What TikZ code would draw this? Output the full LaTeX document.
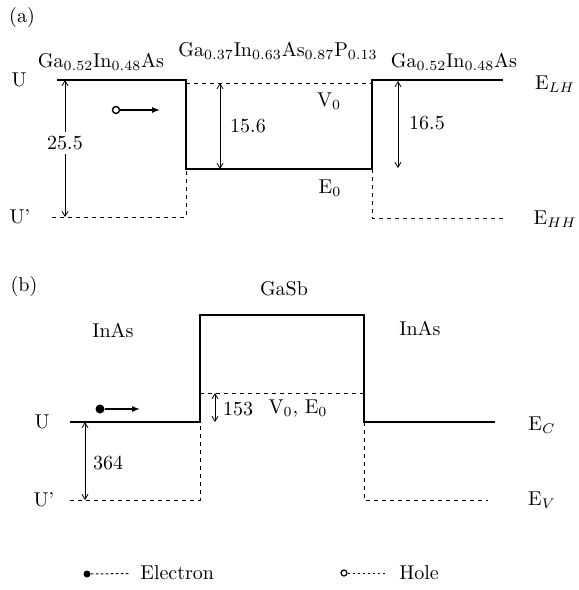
\documentclass[tikz,border=0pt]{standalone}
\usepackage{amsmath,amssymb}
\usepackage{tikz}
\usetikzlibrary{arrows.meta, positioning}
\tikzset{
  band/.style={
    line width=1.4pt
  },
  level/.style={
    line width=0.5pt,
    dash pattern=on 2pt off 2pt
  },
  dim/.style={
    {Straight Barb[length=2.5pt,width=3pt]}-{Straight Barb[length=2.5pt,width=3pt]},
    line width=0.4pt
  },
  carrier/.style={
    -{Latex[length=4pt,width=3pt]},
    line width=0.6pt
  },
  legline/.style={
    line width=0.5pt,
    dash pattern=on 1.2pt off 1.3pt
  },
  lbl/.style={
    inner sep=1pt,
    font=\normalsize
  }
}

\begin{document}
\begin{tikzpicture}[x=0.5pt, y=-0.5pt]
  \useasboundingbox (0,0) rectangle (579,590);

  % Partie (a)
  \node[lbl] (taga) at (22,17) {(a)};
  \node[lbl] (mata1) at (101,62) {Ga$_{0.52}$In$_{0.48}$As};
  \node[lbl] (mata2) at (278,51) {Ga$_{0.37}$In$_{0.63}$As$_{0.87}$P$_{0.13}$};
  \node[lbl] (mata3) at (454,62) {Ga$_{0.52}$In$_{0.48}$As};
  \node[lbl] (ua) at (19,80) {U};
  \node[lbl] (upa) at (20,217) {U'};
  \node[lbl] (elh) at (555,84) {E$_{LH}$};
  \node[lbl] (ehh) at (555,219) {E$_{HH}$};
  \node[lbl] (v0a) at (329,101) {V$_0$};
  \node[lbl] (e0a) at (330,188) {E$_0$};

  \coordinate (a1) at (57,80);
  \coordinate (a2) at (186,80);
  \coordinate (a3) at (186,169);
  \coordinate (a4) at (372,169);
  \coordinate (a5) at (372,80);
  \coordinate (a6) at (503,80);
  \draw[band] (a1) -- (a2) -- (a3) -- (a4) -- (a5) -- (a6);

  \coordinate (d1) at (186,83);
  \coordinate (d2) at (372,83);
  \coordinate (d3) at (52,217);
  \coordinate (d4) at (186,217);
  \coordinate (d5) at (372,218);
  \coordinate (d6) at (504,218);
  \draw[level] (d1) -- (d2);
  \draw[level] (d3) -- (d4) -- (a3);
  \draw[level] (a4) -- (d5) -- (d6);

  % Cotes (a)
  \coordinate (ca1) at (65,80);
  \coordinate (ca2) at (65,217);
  \coordinate (ca3) at (220,83);
  \coordinate (ca4) at (220,169);
  \coordinate (ca5) at (398,81);
  \coordinate (ca6) at (398,168);
  \draw[dim] (ca1) -- node[lbl, fill=white, inner sep=2pt, pos=0.46] (va1) {25.5} (ca2);
  \draw[dim] (ca3) -- (ca4);
  \draw[dim] (ca5) -- (ca6);
  \node[lbl] (va2) at (248,126) {15.6};
  \node[lbl] (va3) at (427,123) {16.5};

  % Trou
  \node[draw, circle, line width=0.7pt, fill=white, inner sep=0pt, minimum size=3.5pt] (hole) at (116,110) {};
  \coordinate (holeend) at (160,110);
  \draw[carrier] (hole) -- (holeend);

  % Partie (b)
  \node[lbl] (tagb) at (24,286) {(b)};
  \node[lbl] (matb1) at (113,330) {InAs};
  \node[lbl] (matb2) at (284,289) {GaSb};
  \node[lbl] (matb3) at (420,328) {InAs};
  \node[lbl] (ub) at (42,422) {U};
  \node[lbl] (upb) at (44,500) {U'};
  \node[lbl] (ec) at (542,425) {E$_C$};
  \node[lbl] (ev) at (542,500) {E$_V$};
  \node[lbl] (v0b) at (298,409) {V$_0$, E$_0$};

  \coordinate (b1) at (70,422);
  \coordinate (b2) at (200,422);
  \coordinate (b3) at (200,315);
  \coordinate (b4) at (364,315);
  \coordinate (b5) at (364,422);
  \coordinate (b6) at (495,422);
  \draw[band] (b1) -- (b2) -- (b3) -- (b4) -- (b5) -- (b6);

  \coordinate (e1) at (200,393);
  \coordinate (e2) at (364,393);
  \coordinate (e3) at (70,500);
  \coordinate (e4) at (200,500);
  \coordinate (e5) at (364,500);
  \coordinate (e6) at (488,500);
  \draw[level] (e1) -- (e2);
  \draw[level] (e3) -- (e4) -- (b2);
  \draw[level] (b5) -- (e5) -- (e6);

  % Cotes (b)
  \coordinate (cb1) at (215,393);
  \coordinate (cb2) at (215,422);
  \coordinate (cb3) at (85,422);
  \coordinate (cb4) at (85,500);
  \draw[dim] (cb1) -- (cb2);
  \draw[dim] (cb3) -- (cb4);
  \node[lbl] (vb1) at (238,409) {153};
  \node[lbl] (vb2) at (108,463) {364};

  % Electron
  \node[circle, fill=black, inner sep=0pt, minimum size=4.5pt] (elec) at (100,409) {};
  \coordinate (elecend) at (140,409);
  \draw[carrier] (elec) -- (elecend);

  % Legende
  \node[circle, fill=black, inner sep=0pt, minimum size=3.5pt] (legel) at (87,574) {};
  \node[lbl, anchor=west] (legeltxt) at (138,573) {Electron};
  \draw[legline, shorten >=4pt] (legel) -- (legeltxt);
  \node[draw, circle, line width=0.6pt, inner sep=0pt, minimum size=3pt] (leghole) at (344,573) {};
  \node[lbl, anchor=west] (legholetxt) at (397,573) {Hole};
  \draw[legline, shorten >=5pt] (leghole) -- (legholetxt);
\end{tikzpicture}
\end{document}
